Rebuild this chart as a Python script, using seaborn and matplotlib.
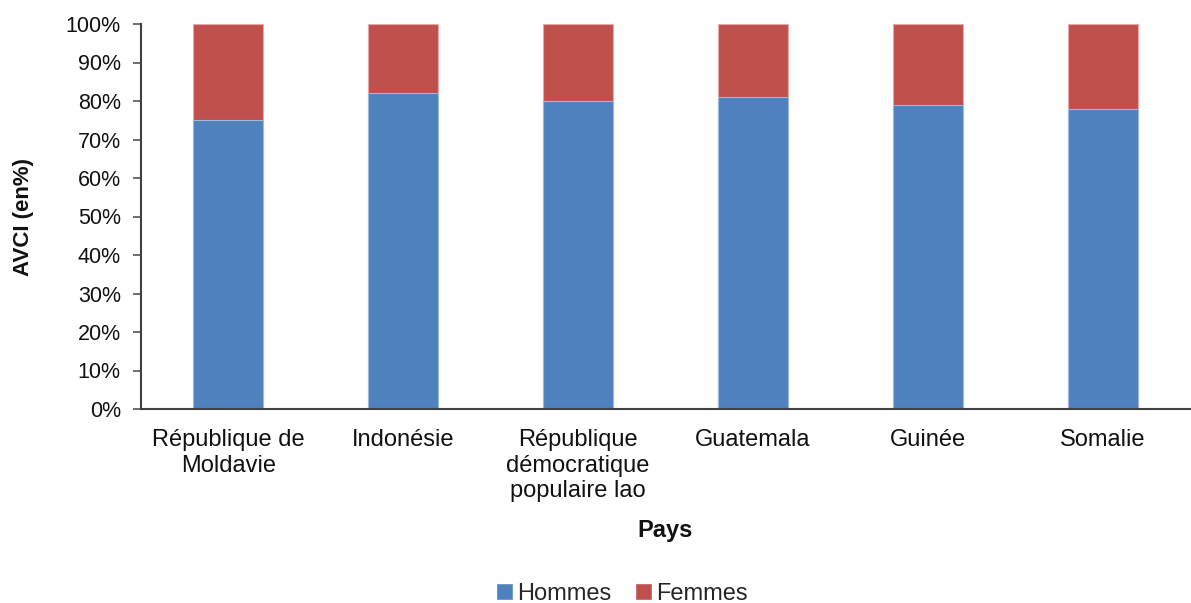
import matplotlib
matplotlib.use("Agg")
import matplotlib.pyplot as plt
import seaborn as sns
import pandas as pd
from matplotlib.patches import Patch

pays = ["République de\nMoldavie", "Indonésie", "République\ndémocratique\npopulaire lao",
        "Guatemala", "Guinée", "Somalie"]
hommes = [75, 82, 80, 81, 79, 78]
femmes = [25, 18, 20, 19, 21, 22]
yticks = list(range(0, 101, 10))

sns.set_theme(style="white")
plt.rcParams['font.family'] = ['Liberation Sans', 'DejaVu Sans']

df = pd.DataFrame({"Pays": pays, "Hommes": hommes, "Femmes": femmes})
df["Total"] = df["Hommes"] + df["Femmes"]

fig = plt.figure(figsize=(11.91, 6.03), dpi=100)
ax = fig.add_axes([141/1191, 1 - 409/603, (1190-141)/1191, (409-24)/603])

blue = "#4F81BD"
red = "#C0504D"
sns.barplot(data=df, x="Pays", y="Total", color=red, width=0.4, ax=ax, saturation=1,
            edgecolor="#E6A9A7", linewidth=0.8, label="Femmes")
sns.barplot(data=df, x="Pays", y="Hommes", color=blue, width=0.4, ax=ax, saturation=1,
            edgecolor="#9DB9DE", linewidth=0.8, label="Hommes")

ax.set_ylim(0, 100)
ax.set_xlim(-0.5, len(pays) - 0.5)
ax.set_yticks(yticks)
ax.set_yticklabels([f"{v}%" for v in yticks], fontsize=15.5, color="#111111")
ax.tick_params(axis="y", which="major", direction="out", length=6, width=1.2,
               color="#555555", pad=8.5, left=True)
ax.tick_params(axis="x", length=0, pad=14.5, labelsize=17, labelcolor="#111111")
for lab in ax.get_xticklabels():
    lab.set_verticalalignment("top")
    lab.set_linespacing(1.2)

for s in ["top", "right"]:
    ax.spines[s].set_visible(False)
for s in ["left", "bottom"]:
    ax.spines[s].set_color("#3F3F3F")
    ax.spines[s].set_linewidth(1.5)

ax.set_xlabel("Pays", fontsize=17, fontweight="bold", labelpad=12, color="#111111")
ax.set_ylabel("AVCI (en%)", fontsize=16, fontweight="bold", labelpad=23, color="#111111")

if ax.get_legend():
    ax.get_legend().remove()
hs = [Patch(facecolor=blue), Patch(facecolor=red)]
fig.legend(hs, ["Hommes", "Femmes"], loc="center", bbox_to_anchor=(622/1191, 1 - 594/603),
           ncol=2, frameon=False, fontsize=17, handlelength=0.7, handleheight=0.7,
           handletextpad=0.2, columnspacing=1.0)

fig.savefig("out.png", dpi=100)
